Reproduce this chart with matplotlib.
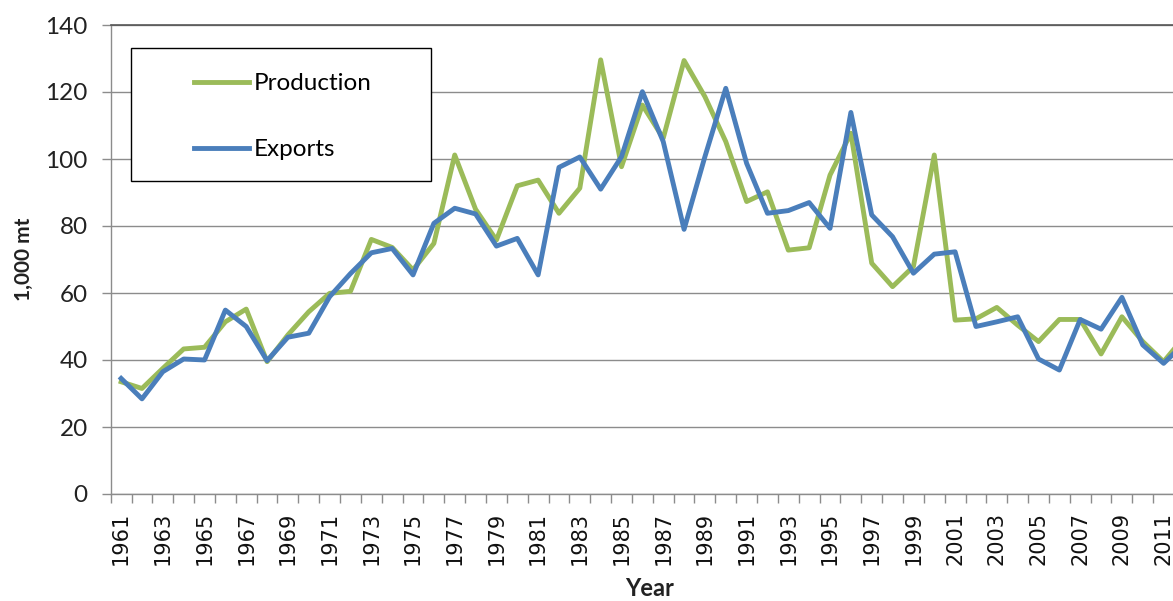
import matplotlib
matplotlib.use('Agg')
import matplotlib.pyplot as plt
from matplotlib.patches import Rectangle
from matplotlib.ticker import MultipleLocator, FixedLocator

# data (1,000 mt)
years = list(range(1961, 2013))
production = [33.5, 31.5, 37.5, 43.3, 43.8, 51.4, 55.2, 39.5, 47.5, 54.4,
              59.9, 60.5, 76.0, 73.6, 66.9, 74.8, 101.2, 85.0, 75.8, 92.0,
              93.7, 83.8, 91.3, 129.6, 97.7, 116.1, 106.2, 129.4, 118.6, 105.2,
              87.3, 90.2, 72.8, 73.5, 95.2, 107.7, 68.9, 61.9, 67.9, 101.2,
              51.9, 52.3, 55.7, 50.4, 45.5, 52.1, 52.1, 41.8, 52.9, 45.5,
              39.5, 47.0]
exports = [34.5, 28.4, 36.5, 40.3, 40.0, 54.9, 50.0, 39.8, 46.8, 48.0,
           58.9, 65.8, 72.0, 73.3, 65.4, 80.8, 85.3, 83.6, 74.0, 76.3,
           65.4, 97.5, 100.6, 91.0, 100.7, 120.1, 105.2, 79.0, 100.7, 121.1,
           98.7, 83.8, 84.6, 87.0, 79.3, 113.9, 83.3, 76.8, 65.9, 71.6,
           72.3, 50.0, 51.4, 52.9, 40.3, 37.0, 52.1, 49.2, 58.7, 44.5,
           39.0, 45.0]
label_years = [y for y in years if y % 2 == 1]

W, H = 1173, 601
fig = plt.figure(figsize=(W / 100, H / 100), dpi=100)

# axes placed in pixel terms, right edge is cut by the figure edge
left, bottom, top = 110.7, 494, 25
ax = fig.add_axes([left / W, 1 - bottom / H, (W - left) / W, (bottom - top) / H])

ax.plot(years, production, color='#9BBB59', lw=3.5, label='Production', zorder=3)
ax.plot(years, exports, color='#4A7EBB', lw=3.5, label='Exports', zorder=3)

ax.set_xlim(1960.5, 2011.45)
ax.set_ylim(0, 140)

# y axis
ax.yaxis.set_major_locator(MultipleLocator(20))
ax.grid(axis='y', color='#8C8C8C', lw=1)
ax.set_axisbelow(True)
ax.tick_params(axis='y', direction='out', length=6.5, width=1, color='#8C8C8C',
               pad=10, labelsize=17.5, labelcolor='#222222')
for t in ax.get_yticklabels():
    t.set_family('Lato')

# x axis: labels on odd years, ticks at category boundaries
ax.xaxis.set_major_locator(FixedLocator(label_years))
ax.set_xticklabels([str(y) for y in label_years], rotation=90, fontsize=15,
                   family='DejaVu Sans', color='#111111')
ax.xaxis.set_minor_locator(FixedLocator([y - 0.5 for y in years]))
ax.tick_params(axis='x', which='major', length=0, pad=13)
ax.tick_params(axis='x', which='minor', direction='out', length=6.5, width=1, color='#8C8C8C')

for s in ['left', 'bottom']:
    ax.spines[s].set_color('#8C8C8C')
    ax.spines[s].set_linewidth(1)
ax.spines['right'].set_visible(False)
ax.spines['top'].set_color('#555555')
ax.spines['top'].set_linewidth(1.2)

ax.set_xlabel('Year', fontsize=17, fontweight='bold', family='Lato', color='#222222')
ax.xaxis.set_label_coords((650 - left) / (W - left), -0.176)
ax.set_ylabel('1,000 mt', fontsize=15, fontweight='bold', family='Lato', color='#222222')
ax.yaxis.set_label_coords((34 - left) / (W - left), 0.5)

# legend box drawn by hand, entries from the axes legend
box = Rectangle((131 / W, 1 - 181 / H), 300 / W, 133 / H, transform=fig.transFigure,
                facecolor='white', edgecolor='black', lw=1, zorder=5, clip_on=False)
ax.add_patch(box)
leg = ax.legend(loc='upper left', bbox_to_anchor=(182 / W, 1 - 61 / H),
                bbox_transform=fig.transFigure, frameon=False, borderpad=0,
                handlelength=2.25, handletextpad=0.2, labelspacing=1.85,
                prop={'family': 'Lato', 'size': 17.5})
leg.set_zorder(6)

fig.savefig('out.png', dpi=100)
